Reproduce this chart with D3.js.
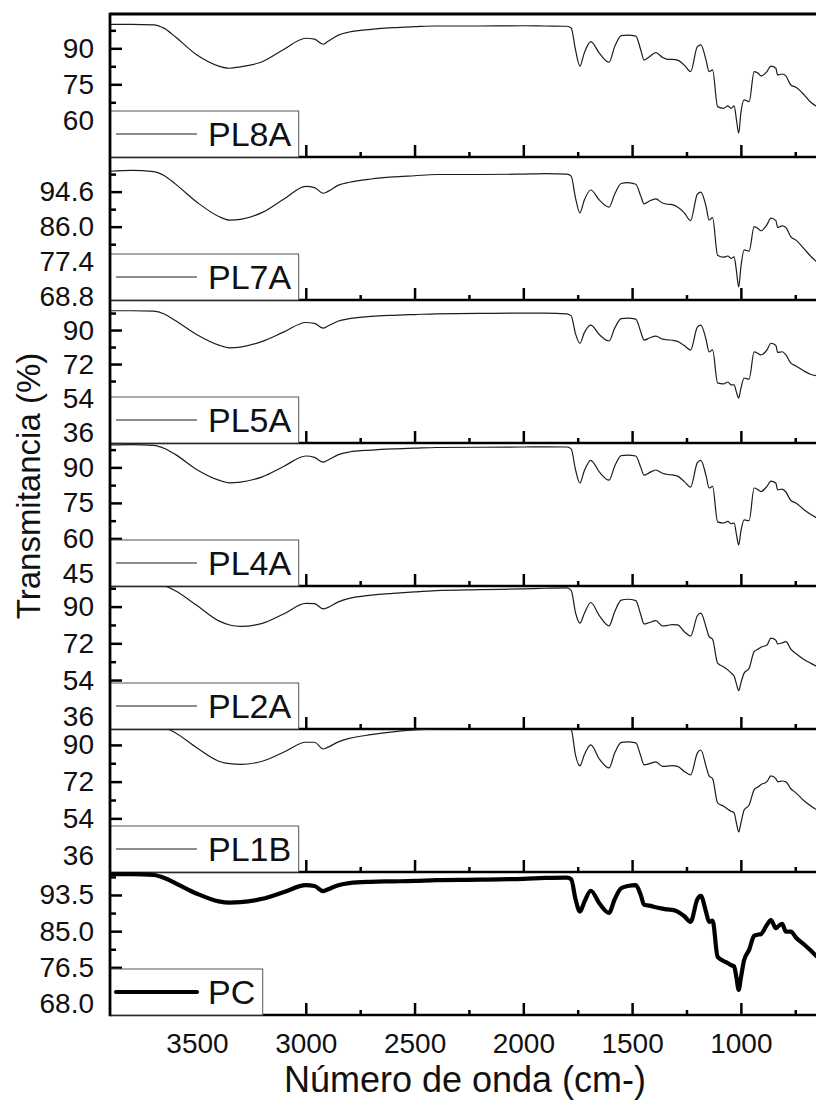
<!DOCTYPE html>
<html><head><meta charset="utf-8">
<script src="https://cdn.jsdelivr.net/npm/d3@7"></script>
<style>
html,body{margin:0;padding:0;background:#fff;}
svg{display:block;font-family:"Liberation Sans",Arial,Helvetica,sans-serif;}
</style></head><body>
<svg id="chart" width="816" height="1107"></svg>
<script>
// Wavenumber grid (cm-1) shared by every spectrum
const wavenumber = [3900,3800,3700,3650,3600,3500,3400,3350,3300,3200,
  3100,3000,2960,2920,2900,2850,2800,2700,2600,2500,
  2400,2200,2000,1900,1800,1780,1760,1740,1720,1690,
  1650,1606,1580,1550,1520,1483,1460,1445,1420,1391,
  1360,1337,1315,1291,1260,1231,1200,1184,1160,1146,
  1130,1107,1080,1060,1045,1031,1020,1010,1000,985,
  962,939,920,908,880,862,839,831,810,793,
  770,747,708,680,650];

// Transmittance (%) of each sample
const pl8a = [100,100,99.8,98.3,94.8,87.2,82.6,81.7,82.3,84.4,
  89.6,94.2,93.8,91.7,92.8,95.5,96.8,97.9,98.6,99.0,
  99.3,99.3,99.4,99.3,99.2,98.5,89.3,82.6,88,92.8,
  87.9,84.2,90.7,95.3,95.5,95.1,89.3,85.1,86.5,88.2,
  86.2,85.4,85.4,85.1,83,80.3,90.7,91.4,85.1,80.3,
  81,65.7,65,66,65,66,60.1,54.6,63,68.5,
  67.75,80.3,79.6,78.5,80.3,82.6,81.7,78.9,79.3,78.5,
  74.7,73.75,70.5,67.6,65.7];
const pl7a = [99.6,99.8,99.5,98.5,96.5,92,88.5,87.6,87.8,89.5,
  92.8,95.9,95.6,94.2,94.6,96.2,96.9,97.7,98.2,98.5,
  98.8,98.8,98.9,99.0,98.9,98.4,93,89.4,92.5,95,
  92.5,90.8,94,96.6,96.8,96.4,93.5,91.6,92.3,92.8,
  91.8,91.5,91.4,90.8,89.4,87.5,94,94.5,91,87.6,
  88.2,79,78.5,78.8,78.2,78.6,75,71.2,76,80.3,
  80,86,85.5,85,86.5,88.1,87.5,85.8,86.2,85.8,
  83.5,82.7,80.5,78.8,77.3];
const pl5a = [100.2,100.2,100,98.5,95,87.5,82,80.6,81,84,
  89,94,93.5,91,92,94.8,96,97.2,97.8,98.2,
  98.6,98.8,99,99,98.6,97.5,88,83,88.5,92.6,
  87.5,84.2,91,96,96.3,95.8,89,84.7,85.8,86.8,
  85.2,84.8,84.6,84,81.8,79.4,91.5,92.6,85,78.4,
  79.5,62,61.5,62.5,61,61,57,54,59,64.6,
  64,78.4,77.5,76.8,79.5,83,81.8,78.2,78.5,76.8,
  72.5,71,68.2,66.6,65.7];
const pl4a = [99.5,99.6,99.3,98,95.5,89,84.6,83.5,83.8,86,
  90.5,94.8,94.2,92.2,93,95.4,96.5,97.3,97.8,98.1,
  98.4,98.5,98.6,98.7,98.6,97.8,89,83.4,88.5,93,
  88,84.6,90.5,95,95.2,94.8,90,86.7,87.8,88.9,
  87.5,87,86.8,86.3,84,81.7,92,93,86.5,81.3,
  82,67,66.5,67.2,66.2,66.5,61.5,57.2,63,67.8,
  67.5,81.3,80.5,79.8,82,84.2,83.3,80.5,80.8,79.6,
  76,75,72,70.2,68.6];
const pl2a = [102.5,102.3,101.5,100.2,97.8,90.5,83,81,80.3,81.8,
  86.5,91.6,91.5,88.9,89.5,92.3,94,95.6,96.5,97.2,
  97.8,98.3,98.7,99,99.2,98,87,81.9,86.5,92,
  85.5,80.5,87.5,93.2,93.6,92.9,86,81.5,82.2,83.1,
  80.5,80.8,81.2,81,77.7,75.6,85.5,86.8,80,75.3,
  74,62.3,60.5,59,57.5,56,52,48.8,52.5,57.4,
  59.8,67.9,69.2,70.1,71.2,74.5,73.5,71.7,72.2,72.8,
  69.1,67,63.9,62.3,60.6];
const pl1b = [100.5,100.3,99.5,98.5,96,88.5,82,80.8,80.5,82,
  86.5,91.3,91.3,88,88.8,91.5,93.2,95,96.4,97.4,
  97.9,98.2,98.4,98.5,98.5,97.5,85,79.7,85,90,
  83,78.7,86,91.2,91.5,91,84.5,80.2,80.8,81.7,
  79.5,79.6,79.8,79.5,77,75.3,86,87.5,79.5,74.8,
  73.5,61.6,60,58.5,57.5,56.7,51.5,47.4,51.5,58.1,
  60.5,68,69.5,70.5,72,74.8,73.5,72,72.3,71.9,
  68.5,66.5,62.5,60.2,58.1];
const pc = [98.4,98.4,98.2,97.5,96.3,93.8,92,91.7,91.8,92.6,
  94.2,95.8,95.6,94.4,94.8,95.8,96.3,96.6,96.7,96.8,
  97,97.1,97.3,97.5,97.6,97.2,92.5,89.6,91.8,94.5,
  91.5,89.3,92.5,95.1,95.6,95.8,93.5,91.2,91,90.6,
  90.3,90.1,90,89.6,88.5,87.2,92.5,93.3,89.5,87.2,
  87.5,79,78,77.5,77,76.7,74,71.2,74,78.2,
  80.6,83.9,84.2,84.3,86.5,87.6,85.7,86,86.7,84.9,
  84.9,83.5,81.8,80.5,79];

const seriesNames = ["PL8A","PL7A","PL5A","PL4A","PL2A","PL1B","PC"];
const seriesValues = [pl8a, pl7a, pl5a, pl4a, pl2a, pl1b, pc];

// Axis settings for each panel
const yDomains = [[44.7,104.3],[68.0,103.1],[30.2,105.9],[39.9,100.3],[30.0,100.1],[27.7,97.8],[65.3,98.9]];
const yTickValues = [[60,75,90],[68.8,77.4,86.0,94.6],[36,54,72,90],[45,60,75,90],[36,54,72,90],[36,54,72,90],[68.0,76.5,85.0,93.5]];
const yMinorTickValues = [[52.5,67.5,82.5,97.5],[73.1,81.7,90.3,98.9],[45,63,81,99],[52.5,67.5,82.5,97.5],[45,63,81,99],[45,63,81],[72.25,80.75,89.25,97.75]];
const yTickFormats = ["d",".1f","d","d","d","d",".1f"];
const xDomain = [3900, 650];
const xTickValues = [3500,3000,2500,2000,1500,1000];
const xMinorTickValues = [3750,3250,2750,2250,1750,1250,750];

const svg = d3.select("#chart");
const plotLeft = 110, plotRight = 817, plotTop = 14, panelH = 143;

const x = d3.scaleLinear().domain(xDomain).range([plotLeft, plotRight]);

seriesNames.forEach((name, i) => {
  const top = plotTop + i * panelH;
  const y = d3.scaleLinear().domain(yDomains[i]).range([panelH, 0]);
  const g = svg.append("g").attr("transform", `translate(0,${top})`);
  const isPC = name === "PC";

  g.append("clipPath").attr("id", "clip" + i)
    .append("rect").attr("x", plotLeft).attr("y", 0)
    .attr("width", plotRight - plotLeft).attr("height", panelH);

  const line = d3.line()
    .x((d, k) => x(wavenumber[k]))
    .y(d => y(d))
    .curve(d3.curveMonotoneX);

  g.append("path")
    .attr("clip-path", `url(#clip${i})`)
    .attr("d", line(seriesValues[i]))
    .attr("fill", "none")
    .attr("stroke", isPC ? "#000" : "#1c1c1c")
    .attr("stroke-width", isPC ? 4.2 : 1.2)
    .attr("stroke-linejoin", "round");

  // left axis: major and minor ticks pointing inward
  const yAxis = g.append("g").attr("transform", `translate(${plotLeft},0)`)
    .call(d3.axisLeft(y).tickValues(yTickValues[i]).tickSize(-12).tickPadding(16)
      .tickFormat(d3.format(yTickFormats[i])));
  const yMinor = g.append("g").attr("transform", `translate(${plotLeft},0)`)
    .call(d3.axisLeft(y).tickValues(yMinorTickValues[i].filter(v => v < yDomains[i][1] - 0.5)).tickSize(-6).tickFormat(""));

  // bottom axis ticks
  const xAxis = g.append("g").attr("transform", `translate(0,${panelH})`)
    .call(d3.axisBottom(x).tickValues(xTickValues).tickSize(-12).tickPadding(18)
      .tickFormat(i === seriesNames.length - 1 ? d3.format("d") : ""));
  const xMinor = g.append("g").attr("transform", `translate(0,${panelH})`)
    .call(d3.axisBottom(x).tickValues(xMinorTickValues).tickSize(-5).tickFormat(""));

  [yAxis, yMinor, xAxis, xMinor].forEach(a => {
    a.select(".domain").remove();
    a.selectAll(".tick line").attr("stroke", "#000").attr("stroke-width", 2.5);
    a.selectAll(".tick text").attr("fill", "#111").attr("font-size", 28)
      .attr("font-family", '"Liberation Sans", Arial, sans-serif');
  });

  // panel separator line
  g.append("line").attr("x1", plotLeft).attr("x2", plotRight)
    .attr("y1", panelH).attr("y2", panelH)
    .attr("stroke", "#000").attr("stroke-width", 2.6);

  // legend box in the lower left corner
  const lg = g.append("g").attr("transform", `translate(${plotLeft},${panelH - 46})`);
  const box = lg.append("rect").attr("x", 0.5).attr("y", 0).attr("height", 46)
    .attr("fill", "#fff").attr("stroke", "#555").attr("stroke-width", 1);
  lg.append("line").attr("x1", 6).attr("x2", 87).attr("y1", 23).attr("y2", 23)
    .attr("stroke", isPC ? "#000" : "#1c1c1c").attr("stroke-width", isPC ? 4.2 : 1.2)
    .attr("stroke-linecap", isPC ? "round" : "butt");
  const lt = lg.append("text").attr("x", 98).attr("y", 35).attr("font-size", 34)
    .attr("fill", "#111").text(name);
  const tw = lt.node().getComputedTextLength();
  box.attr("width", 98 + tw + 7);
});

// outer frame: left edge and top edge
svg.append("line").attr("x1", plotLeft).attr("x2", plotLeft)
  .attr("y1", plotTop - 1.3).attr("y2", plotTop + panelH * seriesNames.length + 1.3)
  .attr("stroke", "#000").attr("stroke-width", 2.8);
svg.append("line").attr("x1", plotLeft).attr("x2", plotRight)
  .attr("y1", plotTop).attr("y2", plotTop)
  .attr("stroke", "#000").attr("stroke-width", 2.8);

// axis titles
svg.append("text").attr("transform", "translate(40,486) rotate(-90)")
  .attr("text-anchor", "middle").attr("font-size", 33).attr("fill", "#111")
  .text("Transmitancia (%)");
svg.append("text").attr("x", 465).attr("y", 1092)
  .attr("text-anchor", "middle").attr("font-size", 36).attr("fill", "#111")
  .text("Número de onda (cm-)");
</script>
</body></html>
